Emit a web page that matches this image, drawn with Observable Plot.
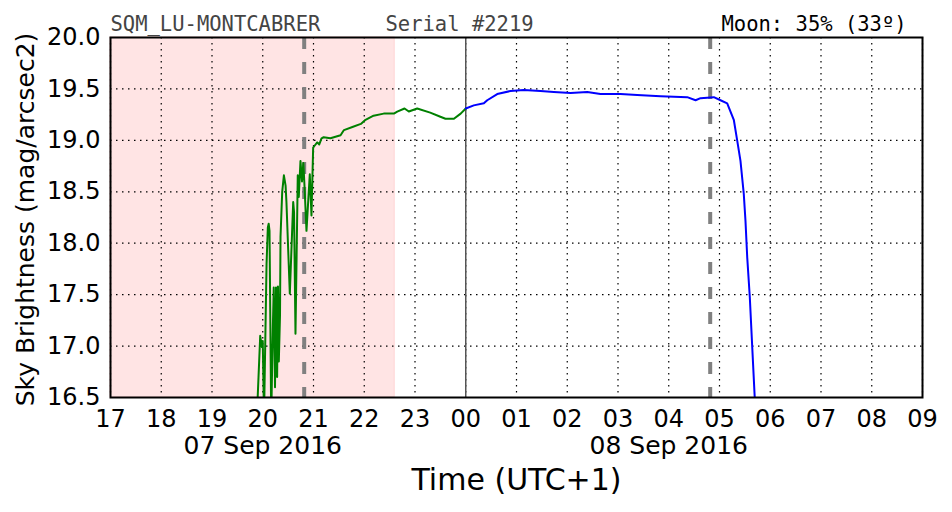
<!DOCTYPE html>
<html><head><meta charset="utf-8">
<script src="https://cdn.jsdelivr.net/npm/d3@7"></script>
<script src="https://cdn.jsdelivr.net/npm/@observablehq/plot@0.6"></script>
<style>html,body{margin:0;padding:0;background:#fff} svg{display:block}</style>
</head><body><div id="chart"></div>
<script>
// ---- data (times are local UTC+1 clock; hours before 12 belong to 08 Sep) ----
const greenTimes = ["19:53","19:57","19:59","20:00","20:01:30","20:04:30","20:06","20:07","20:08","20:10","20:12","20:13","20:14:30","20:15:40","20:17","20:18","20:19","20:20:24","20:21","20:23","20:25","20:27","20:28","20:32","20:36","20:37","20:38:42","20:41:24","20:42:36","20:44:36","20:46:24","20:48","20:49:24","20:51:42","20:55:36","20:57:36","20:59:36","21:01:30","21:04:24","21:06:48","21:09:30","21:12","21:20","21:32","21:36","21:46","21:56","22:01:30","22:11","22:23","22:35","22:39","22:47:36","22:52:42","23:02:36","23:18","23:30","23:36","23:46","23:54","00:00"];
const greenValues = [16.3,17.10,16.99,17.05,16.3,17.80,18.15,18.19,18.12,16.3,17.2,17.57,16.6,17.57,16.7,17.58,16.85,17.3,18.06,18.5,18.66,18.56,18.4,17.51,18.40,18.3,17.12,18.66,18.45,18.80,18.6,18.78,18.55,18.12,18.67,18.27,18.93,18.95,18.98,18.96,19.02,19.03,19.02,19.05,19.10,19.13,19.16,19.20,19.24,19.26,19.26,19.28,19.31,19.28,19.31,19.27,19.23,19.21,19.21,19.26,19.31];
const blueTimes = ["00:00","00:09:30","00:21:24","00:25:24","00:37:12","00:52:54","01:08:36","01:28:24","01:44:06","02:03:54","02:23:36","02:39:18","03:03","03:22:42","03:50:18","04:21:48","04:31:42","04:37:36","04:53:18","05:01:12","05:09:06","05:11","05:16:54","05:20:54","05:24:48","05:28:42","05:30:42","05:32:48","05:35:48","05:38:42","05:41:24","05:42"];
const blueValues = [19.31,19.34,19.36,19.39,19.45,19.48,19.49,19.48,19.47,19.46,19.47,19.45,19.45,19.44,19.43,19.42,19.39,19.41,19.42,19.39,19.36,19.32,19.20,19.00,18.80,18.48,18.22,17.86,17.48,16.99,16.54,16.45];
const yTicks = [16.5,17.0,17.5,18.0,18.5,19.0,19.5,20.0];
const xRange = ["17:00","09:00"];
const twilightRange = ["17:00","22:36"];
const moonTimes = ["20:49","04:49"];
const midnightTime = ["00:00"];
const dateLabels = ["07 Sep 2016","08 Sep 2016"];
const dateLabelTimes = ["20:00","04:00"];
const stationName = "SQM_LU-MONTCABRER";
const serialText = "Serial #2219";
const moonText = "Moon: 35% (33º)";
const xTitle = "Time (UTC+1)";
const yTitle = "Sky Brightness (mag/arcsec2)";

// ---- helpers ----
const parseT = s => {
  const [h, m, sec = 0] = s.split(":").map(Number);
  return new Date(Date.UTC(2016, 8, h < 12 ? 8 : 7, h, m, sec));
};
const xStart = parseT(xRange[0]), xEnd = parseT(xRange[1]);
const hours = d3.utcHour.range(xStart, new Date(+xEnd + 1));
const green = greenTimes.map((t, i) => ({time: parseT(t), value: greenValues[i]}));
const blue = blueTimes.map((t, i) => ({time: parseT(t), value: blueValues[i]}));
const twilight = [{start: parseT(twilightRange[0]), end: parseT(twilightRange[1])}];
const moon = moonTimes.map(parseT);
const midnight = midnightTime.map(parseT);
const dates = dateLabels.map((d, i) => ({label: d, time: parseT(dateLabelTimes[i])}));
const mono = "DejaVu Sans Mono";

const chart = Plot.plot({
  width: 952, height: 512,
  marginLeft: 110, marginRight: 30, marginTop: 37, marginBottom: 115,
  style: {fontFamily: "DejaVu Sans", fontSize: "24px", color: "black", background: "white", overflow: "visible"},
  x: {type: "utc", domain: [xStart, xEnd]},
  y: {domain: [16.5, 20]},
  marks: [
    Plot.rect(twilight, {x1: "start", x2: "end", fill: "#ffe4e4", stroke: "#ffd4d4", strokeWidth: 1}),
    Plot.gridX({ticks: hours, stroke: "black", strokeOpacity: 1, strokeWidth: 1.2, strokeDasharray: "1.5,4.5"}),
    Plot.gridY({ticks: yTicks, stroke: "black", strokeOpacity: 1, strokeWidth: 1.2, strokeDasharray: "1.5,4.5"}),
    Plot.ruleX(midnight, {stroke: "#555", strokeWidth: 1.5}),
    Plot.ruleX(moon, {stroke: "#808080", strokeWidth: 4, strokeDasharray: "12,13"}),
    Plot.line(green, {x: "time", y: "value", stroke: "#008000", strokeWidth: 2, clip: true}),
    Plot.line(blue, {x: "time", y: "value", stroke: "#0000ff", strokeWidth: 2, clip: true}),
    Plot.axisX({ticks: hours, tickFormat: d3.utcFormat("%H"), tickSize: 0, tickPadding: 12, label: null, fontSize: 24}),
    Plot.axisY({ticks: yTicks, tickFormat: d => d.toFixed(1), tickSize: 0, tickPadding: 10, label: null, fontSize: 24}),
    Plot.frame({stroke: "black", strokeWidth: 2}),
    Plot.text(dates, {x: "time", text: "label", frameAnchor: "bottom", lineAnchor: "top", dy: 39, fontSize: 25}),
    Plot.text([xTitle], {text: d => d, frameAnchor: "bottom", lineAnchor: "top", dy: 71, fontSize: 30}),
    Plot.text([yTitle], {text: d => d, frameAnchor: "left", textAnchor: "middle", rotate: -90, dx: -85, dy: 2, fontSize: 25}),
    Plot.text([stationName], {text: d => d, frameAnchor: "top-left", textAnchor: "start", lineAnchor: "bottom", dy: -7, fontFamily: mono, fontSize: 20.5, fill: "#444"}),
    Plot.text([serialText], {text: d => d, frameAnchor: "top-left", textAnchor: "start", lineAnchor: "bottom", dx: 275, dy: -7, fontFamily: mono, fontSize: 20.5, fill: "#444"}),
    Plot.text([moonText], {text: d => d, frameAnchor: "top-left", textAnchor: "start", lineAnchor: "bottom", dx: 611, dy: -7, fontFamily: mono, fontSize: 20.5, fill: "black"})
  ]
});
document.getElementById("chart").appendChild(chart);
</script>
</body></html>
